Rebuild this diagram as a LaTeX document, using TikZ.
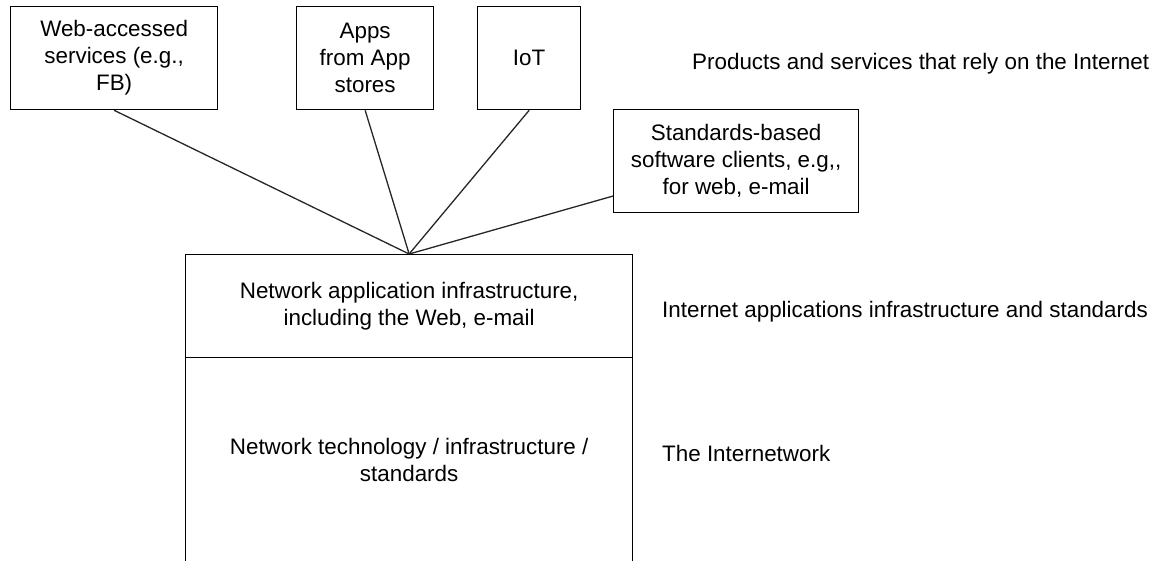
\documentclass[tikz,border=0pt]{standalone}
\usepackage{fontspec}
\setmainfont{Liberation Sans}
\begin{document}
\begin{tikzpicture}[x=1pt,y=-1pt,
  box/.style={draw=black,line width=1.3pt,anchor=north west,inner sep=0pt,align=center,
    font=\fontsize{22.4}{27}\selectfont},
  lbl/.style={anchor=base west,inner sep=0pt,font=\fontsize{22.4}{27}\selectfont},
  conn/.style={draw=black!85,line width=1.3pt}]
\useasboundingbox (0,0) rectangle (1164,560);
\node[box,minimum width=207pt,minimum height=103pt] (web) at (10,6) {Web-accessed\\services (e.g.,\\FB)};
\node[box,minimum width=137pt,minimum height=103pt] (apps) at (296,6) {Apps\\from App\\stores};
\node[box,minimum width=103pt,minimum height=103pt] (iot) at (477,6) {IoT};
\node[box,minimum width=245pt,minimum height=103pt] (std) at (613,109) {Standards-based\\software clients, e.g,{},\\for web, e-mail};
\node[box,minimum width=447pt,minimum height=103pt] (app) at (185,254) {Network application infrastructure,\\including the Web, e-mail};
\node[box,minimum width=447pt,minimum height=205pt] (net) at (185,357) {Network technology / infrastructure /\\standards};
\coordinate (hub) at (app.north);
\draw[conn] (web.south) -- (hub);
\draw[conn] (apps.south) -- (hub);
\draw[conn] (iot.south) -- (hub);
\draw[conn] (hub) -- (std);
\node[lbl] (l1) at (692,69) {Products and services that rely on the Internet};
\node[lbl] (l2) at (662,317) {Internet applications infrastructure and standards};
\node[lbl] (l3) at (662,461) {The Internetwork};
\end{tikzpicture}
\end{document}
